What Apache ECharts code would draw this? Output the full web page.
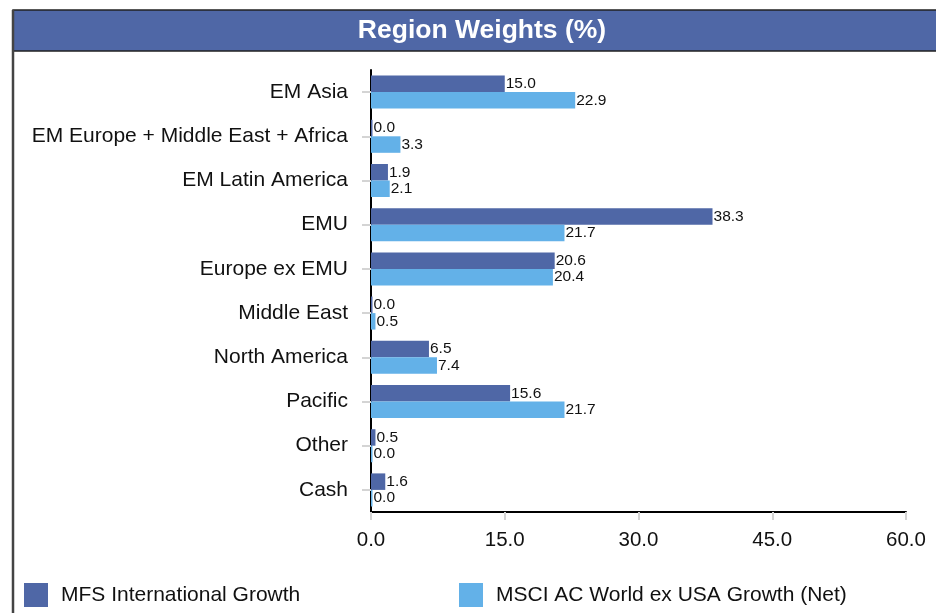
<!DOCTYPE html>
<html>
<head>
<meta charset="utf-8">
<script src="https://cdn.jsdelivr.net/npm/echarts@6/dist/echarts.min.js"></script>
<style>
html,body{margin:0;padding:0;background:#fff;}
#chart{width:936px;height:613px;}
</style>
</head>
<body>
<div id="chart"></div>
<script>
const titleText = 'Region Weights (%)';
const categories = ['EM Asia','EM Europe + Middle East + Africa','EM Latin America','EMU','Europe ex EMU','Middle East','North America','Pacific','Other','Cash'];
const seriesNames = ['MFS International Growth','MSCI AC World ex USA Growth (Net)'];
const mfsValues = [15.0,0.0,1.9,38.3,20.6,0.0,6.5,15.6,0.5,1.6];
const msciValues = [22.9,3.3,2.1,21.7,20.4,0.5,7.4,21.7,0.0,0.0];
const xTicks = [0,15,30,45,60];

const darkBlue = '#4f67a6';
const lightBlue = '#63b1e8';
const font = 'Liberation Sans, Arial, sans-serif';

const chart = echarts.init(document.getElementById('chart'), null, {renderer:'canvas'});
const labelCfg = {show:true, position:'right', distance:1, color:'#111', fontSize:15.5, fontFamily:font, formatter: p => p.value.toFixed(1)};
chart.setOption({
  animation:false,
  backgroundColor:'#fff',
  graphic:[
    {type:'rect', shape:{x:13, y:10, width:930, height:41}, style:{fill:darkBlue, stroke:'#222', lineWidth:1.5}, z:0},
    {type:'line', shape:{x1:13, y1:10, x2:13, y2:613}, style:{stroke:'#444', lineWidth:2.5}, z:1},
    {type:'text', x:482, y:31, style:{text:titleText, fill:'#fff', font:'bold 26.5px '+font, textAlign:'center', textVerticalAlign:'middle'}, z:2}
  ],
  legend:[
    {data:[seriesNames[0]], left:19, top:578, itemWidth:24, itemHeight:24, itemGap:0, icon:'rect',
     textStyle:{fontSize:21, fontFamily:font, color:'#111', padding:[0,0,0,8]}},
    {data:[seriesNames[1]], left:454, top:578, itemWidth:24, itemHeight:24, itemGap:0, icon:'rect',
     textStyle:{fontSize:21, fontFamily:font, color:'#111', padding:[0,0,0,8]}}
  ],
  grid:{left:371, right:30, top:70, bottom:101, containLabel:false},
  xAxis:{type:'value', min:xTicks[0], max:xTicks[xTicks.length-1], interval:15,
    axisLine:{show:true, lineStyle:{color:'#000', width:2}},
    axisTick:{show:true, length:8, lineStyle:{color:'#d4d4d4', width:2}},
    splitLine:{show:false},
    axisLabel:{fontSize:20.5, fontFamily:font, color:'#111', margin:18, formatter: v => v.toFixed(1)}
  },
  yAxis:{type:'category', data:categories, inverse:true,
    axisLine:{show:true, lineStyle:{color:'#000', width:2}},
    axisTick:{show:true, length:9, alignWithLabel:true, lineStyle:{color:'#d4d4d4', width:2}},
    axisLabel:{fontSize:21, fontFamily:font, color:'#111', margin:23}
  },
  series:[
    {name:seriesNames[0], type:'bar', data:mfsValues, itemStyle:{color:darkBlue}, barWidth:16.5, barGap:'0%', barMinHeight:1.5, label:labelCfg},
    {name:seriesNames[1], type:'bar', data:msciValues, itemStyle:{color:lightBlue}, barWidth:16.5, barGap:'0%', barMinHeight:1.5, label:labelCfg}
  ]
});
</script>
</body>
</html>
